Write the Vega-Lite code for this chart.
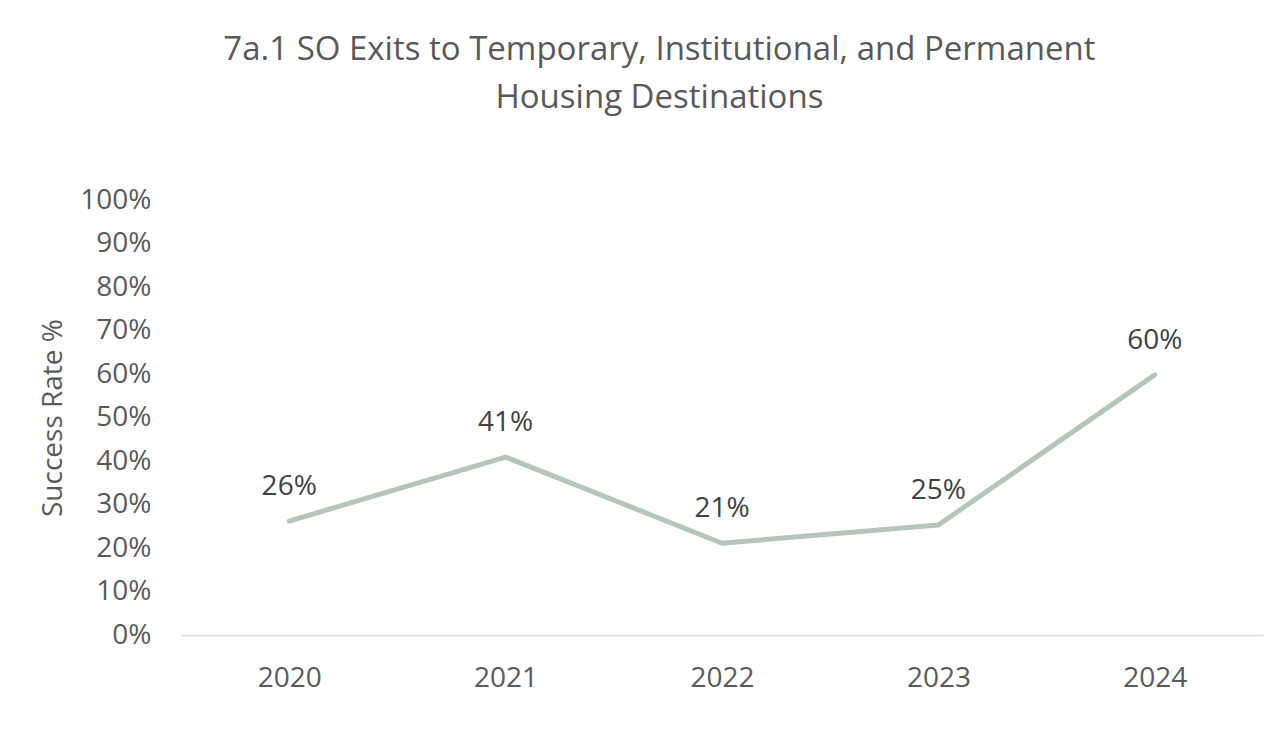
{
  "$schema": "https://vega.github.io/schema/vega-lite/v6.json",
  "autosize": "none",
  "width": 1082,
  "height": 435,
  "padding": {"left": 181, "top": 200, "right": 11, "bottom": 98},
  "background": "white",
  "config": {
    "font": "Open Sans",
    "view": {"stroke": null}
  },
  "title": {
    "text": ["7a.1 SO Exits to Temporary, Institutional, and Permanent", "Housing Destinations"],
    "fontSize": 33,
    "fontWeight": "normal",
    "color": "#595959",
    "lineHeight": 48,
    "anchor": "middle",
    "frame": "bounds",
    "offset": 71,
    "dx": 8
  },
  "data": {
    "values": [
      {"year": "2020", "rate": 0.262},
      {"year": "2021", "rate": 0.409},
      {"year": "2022", "rate": 0.211},
      {"year": "2023", "rate": 0.253},
      {"year": "2024", "rate": 0.598}
    ]
  },
  "encoding": {
    "x": {
      "field": "year",
      "type": "ordinal",
      "scale": {"paddingInner": 0, "paddingOuter": 0.5},
      "axis": {
        "title": null,
        "labelAngle": 0,
        "ticks": false,
        "labelFontSize": 28,
        "labelColor": "#595959",
        "labelPadding": 29,
        "domainColor": "#d9d9d9",
        "domainWidth": 1.5,
        "grid": false
      }
    },
    "y": {
      "field": "rate",
      "type": "quantitative",
      "scale": {"domain": [0, 1]},
      "axis": {
        "title": "Success Rate %",
        "titleFontSize": 28,
        "titleFontWeight": "normal",
        "titleColor": "#595959",
        "titlePadding": 12,
        "format": ".0%",
        "values": [0, 0.1, 0.2, 0.3, 0.4, 0.5, 0.6, 0.7, 0.8, 0.9, 1],
        "ticks": false,
        "domain": false,
        "grid": false,
        "labelFontSize": 28,
        "labelColor": "#595959",
        "labelPadding": 30
      }
    }
  },
  "layer": [
    {
      "mark": {"type": "line", "color": "#b4c6ba", "strokeWidth": 5, "strokeCap": "round", "strokeJoin": "round"}
    },
    {
      "mark": {"type": "text", "fontSize": 28, "color": "#404040", "baseline": "alphabetic", "dy": -26},
      "encoding": {"text": {"field": "rate", "type": "quantitative", "format": ".0%"}}
    }
  ]
}
